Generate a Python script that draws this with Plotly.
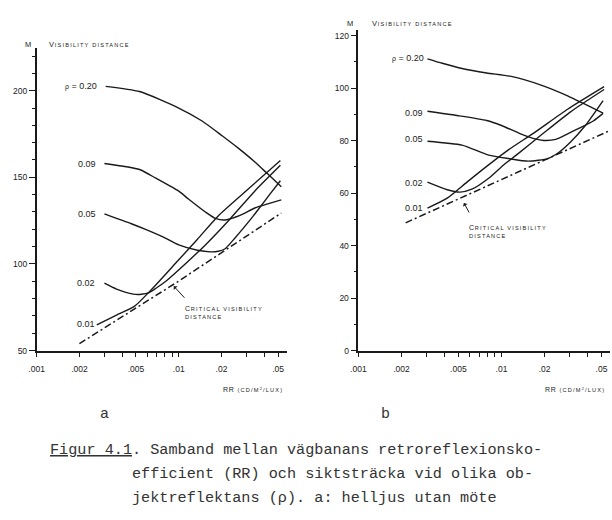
import plotly.graph_objects as go

W, H = 612, 520

# ---------------- data: panel a ----------------
a_x_020 = [0.00306, 0.0053, 0.01, 0.0146, 0.0202, 0.0261, 0.0342, 0.0422, 0.0527]
a_y_020 = [202.5, 199.5, 190, 182.5, 174, 167, 159, 152, 144.5]

a_x_009 = [0.003, 0.0053, 0.0069, 0.01, 0.0117, 0.0154, 0.0181, 0.0212, 0.027, 0.0343, 0.0435, 0.0527]
a_y_009 = [158, 154.5, 149.5, 142, 137.5, 130, 126.3, 125.4, 128, 132.3, 135, 137]

a_x_005 = [0.003, 0.00464, 0.0059, 0.00787, 0.01, 0.01355, 0.01668, 0.01896, 0.0212, 0.02488, 0.03265, 0.03594, 0.04355, 0.05192]
a_y_005 = [128.9, 123.2, 119.8, 115.3, 111, 107.9, 107, 107.3, 108.8, 115, 126.6, 131, 140, 148]

a_x_002 = [0.003, 0.00365, 0.00479, 0.00545, 0.00619, 0.00692, 0.00812, 0.0103, 0.01355, 0.0154, 0.02297, 0.03425, 0.05192]
a_y_002 = [88.9, 85.5, 82.6, 82.5, 83.5, 86, 90, 97.5, 106.6, 111, 126, 142, 156.9]

a_x_001 = [0.00265, 0.00365, 0.00487, 0.00639, 0.00953, 0.01355, 0.01896, 0.0292, 0.05192]
a_y_001 = [64.9, 70.5, 75.5, 85, 100.5, 114.3, 127.7, 141.5, 159.7]

a_x_crit = [0.002, 0.00953, 0.0527]
a_y_crit = [54, 89, 129.4]

# ---------------- data: panel b ----------------
b_x_020 = [0.00304, 0.00386, 0.0053, 0.00788, 0.0117, 0.0189, 0.029, 0.0386, 0.0513]
b_y_020 = [111.2, 109.5, 107.5, 105.8, 104.5, 101.2, 97.1, 93.8, 90.5]

b_x_009 = [0.00304, 0.00489, 0.00788, 0.01, 0.01374, 0.01689, 0.0198, 0.02395, 0.02898, 0.03562, 0.0438, 0.0513]
b_y_009 = [91.2, 89.6, 87.7, 85.8, 82.5, 80.8, 80.1, 80.5, 82.6, 85, 87.5, 90.4]

b_x_005 = [0.00304, 0.0053, 0.00814, 0.01118, 0.01536, 0.0211, 0.02512, 0.03039, 0.03857, 0.04522, 0.05132]
b_y_005 = [79.8, 78.3, 74.5, 73.2, 72.2, 73.2, 75.5, 79.5, 85.8, 91, 95.3]

b_x_002 = [0.00304, 0.00418, 0.00513, 0.00621, 0.00814, 0.01049, 0.01269, 0.0198, 0.03039, 0.05214]
b_y_002 = [64.2, 61.3, 60.4, 61.5, 65.7, 71, 74.5, 83, 91, 99.5]

b_x_001 = [0.00304, 0.00418, 0.00574, 0.00788, 0.01118, 0.01689, 0.02898, 0.05214]
b_y_001 = [54.3, 58.1, 64.2, 70.2, 76.5, 83, 92, 100.6]

b_x_crit = [0.00214, 0.0574]
b_y_crit = [48.7, 83.9]

# ---------------- ticks ----------------
x_tickvals = [0.001, 0.002, 0.005, 0.01, 0.02, 0.05]
x_ticktext = [".001", ".002", ".005", ".01", ".02", ".05"]
x_minorvals = [0.003, 0.004, 0.006, 0.007, 0.008, 0.009, 0.03, 0.04]
a_y_tickvals = [50, 100, 150, 200]
a_y_minorvals = [60, 70, 80, 90, 110, 120, 130, 140, 160, 170, 180, 190, 210, 220]
b_y_tickvals = [0, 20, 40, 60, 80, 100, 120]
b_y_minorvals = [10, 30, 50, 70, 90, 110]

INK = "#1a1a1a"


def px(x):
    return x / W


def py(y):
    return 1 - y / H


fig = go.Figure()
curve = dict(color=INK, width=1.4, shape="spline", smoothing=0.6)
dash = dict(color=INK, width=1.5, dash="7px,3px,2px,3px")

for xs, ys in [(a_x_020, a_y_020), (a_x_009, a_y_009), (a_x_005, a_y_005),
               (a_x_002, a_y_002), (a_x_001, a_y_001)]:
    fig.add_trace(go.Scatter(x=xs, y=ys, mode="lines", line=curve,
                             xaxis="x", yaxis="y", showlegend=False, hoverinfo="skip"))
fig.add_trace(go.Scatter(x=a_x_crit, y=a_y_crit, mode="lines", line=dash,
                         xaxis="x", yaxis="y", showlegend=False, hoverinfo="skip"))

for xs, ys in [(b_x_020, b_y_020), (b_x_009, b_y_009), (b_x_005, b_y_005),
               (b_x_002, b_y_002), (b_x_001, b_y_001)]:
    fig.add_trace(go.Scatter(x=xs, y=ys, mode="lines", line=curve,
                             xaxis="x2", yaxis="y2", showlegend=False, hoverinfo="skip"))
fig.add_trace(go.Scatter(x=b_x_crit, y=b_y_crit, mode="lines", line=dash,
                         xaxis="x2", yaxis="y2", showlegend=False, hoverinfo="skip"))

tickfont = dict(family="Liberation Sans", size=8.5, color="#222")


def xaxis(domain, rng, anchor):
    return dict(type="log", domain=domain, range=rng, anchor=anchor,
                showline=True, linecolor=INK, linewidth=1.6, mirror=False,
                ticks="outside", ticklen=5, tickwidth=1.2, tickcolor=INK,
                ticklabelstandoff=4,
                tickvals=x_tickvals, ticktext=x_ticktext, tickfont=tickfont,
                minor=dict(tickvals=x_minorvals, ticks="outside", ticklen=5,
                           tickwidth=1.2, tickcolor=INK),
                showgrid=False, zeroline=False, fixedrange=True)


def yaxis(domain, rng, anchor, tv, mv):
    return dict(domain=domain, range=rng, anchor=anchor,
                showline=True, linecolor=INK, linewidth=1.6,
                ticks="outside", ticklen=6, tickwidth=1.2, tickcolor=INK,
                tickvals=tv, tickfont=tickfont,
                minor=dict(tickvals=mv, ticks="outside", ticklen=3,
                           tickwidth=1.2, tickcolor=INK),
                showgrid=False, zeroline=False, fixedrange=True)


ann = []


def text(x, y, s, size=9, anchor="center", family="Liberation Sans", color="#222"):
    ann.append(dict(x=px(x), y=py(y), xref="paper", yref="paper", text=s,
                    showarrow=False, xanchor=anchor, yanchor="middle",
                    font=dict(family=family, size=size, color=color)))


def sc(big, small, bs=7.5, ss=5.6):
    return (f"<span style='font-size:{bs}px;letter-spacing:0.8px'>{big}</span>"
            f"<span style='font-size:{ss}px;letter-spacing:1.2px'>{small}</span>")


rho = "<span style='font-size:7px'>ρ</span> = 0.20"
crit = (sc("C", "RITICAL VISIBILITY", 7, 5.6) + "<br>" +
        "<span style='font-size:5.6px;letter-spacing:1.2px'>DISTANCE</span>")
rr = sc("RR", " (CD/M<sup>2</sup>/LUX)", 7, 5.6)

# panel a labels
text(20, 45, "M", size=7.5)
text(40, 45, sc("V", "ISIBILITY DISTANCE"), anchor="left")
text(92, 87, rho, anchor="right")
text(91, 166, "0.09", anchor="right")
text(91, 216, "0.05", anchor="right")
text(90, 286, "0.02", anchor="right")
text(90, 327, "0.01", anchor="right")
ann.append(dict(x=px(177), y=py(316), xref="paper", yref="paper", text=crit,
                showarrow=False, xanchor="left", yanchor="middle", align="left",
                font=dict(family="Liberation Sans", size=6.5, color="#222")))
ann.append(dict(x=px(168), y=py(289), xref="paper", yref="paper", text="",
                showarrow=True, ax=12, ay=13, arrowhead=1, arrowsize=0.9,
                arrowwidth=1, arrowcolor=INK))
text(281, 393, rr, anchor="right")
text(98, 419, "a", size=15, family="Liberation Mono", color="#333")

# panel b labels
text(347, 24, "M", size=7.5)
text(367, 24, sc("V", "ISIBILITY DISTANCE"), anchor="left")
text(424, 59, rho, anchor="right")
text(423, 114, "0.09", anchor="right")
text(423, 140, "0.05", anchor="right")
text(423, 185, "0.02", anchor="right")
text(423, 210, "0.01", anchor="right")
ann.append(dict(x=px(465), y=py(234), xref="paper", yref="paper", text=crit,
                showarrow=False, xanchor="left", yanchor="middle", align="left",
                font=dict(family="Liberation Sans", size=6.5, color="#222")))
ann.append(dict(x=px(462), y=py(205), xref="paper", yref="paper", text="",
                showarrow=True, ax=6, ay=11, arrowhead=1, arrowsize=0.9,
                arrowwidth=1, arrowcolor=INK))
text(607, 393, rr, anchor="right")
text(382, 419, "b", size=15, family="Liberation Mono", color="#333")

# caption
cap = ["<u>Figur 4.1</u>. Samband mellan vägbanans retroreflexionsko-",
       "efficient (RR) och siktsträcka vid olika ob-",
       "jektreflektans (ρ). a: helljus utan möte"]
text(41, 454, cap[0], size=15.2, anchor="left", family="Liberation Mono", color="#333")
text(124, 479, cap[1], size=15.2, anchor="left", family="Liberation Mono", color="#333")
text(124, 503, cap[2], size=15.2, anchor="left", family="Liberation Mono", color="#333")

fig.update_layout(
    width=W, height=H, margin=dict(l=0, r=0, t=0, b=0),
    paper_bgcolor="white", plot_bgcolor="white",
    xaxis=xaxis([px(29), px(283)], [-3, -1.236], "y"),
    yaxis=yaxis([py(354), py(48)], [50, 224.9], "x", a_y_tickvals, a_y_minorvals),
    xaxis2=xaxis([px(355), px(610)], [-3, -1.2414], "y2"),
    yaxis2=yaxis([py(354), py(30)], [0, 122.3], "x2", b_y_tickvals, b_y_minorvals),
    annotations=ann,
)

fig.write_html("out.html", config={"displayModeBar": False},
               post_script="document.body.style.margin='0';")
